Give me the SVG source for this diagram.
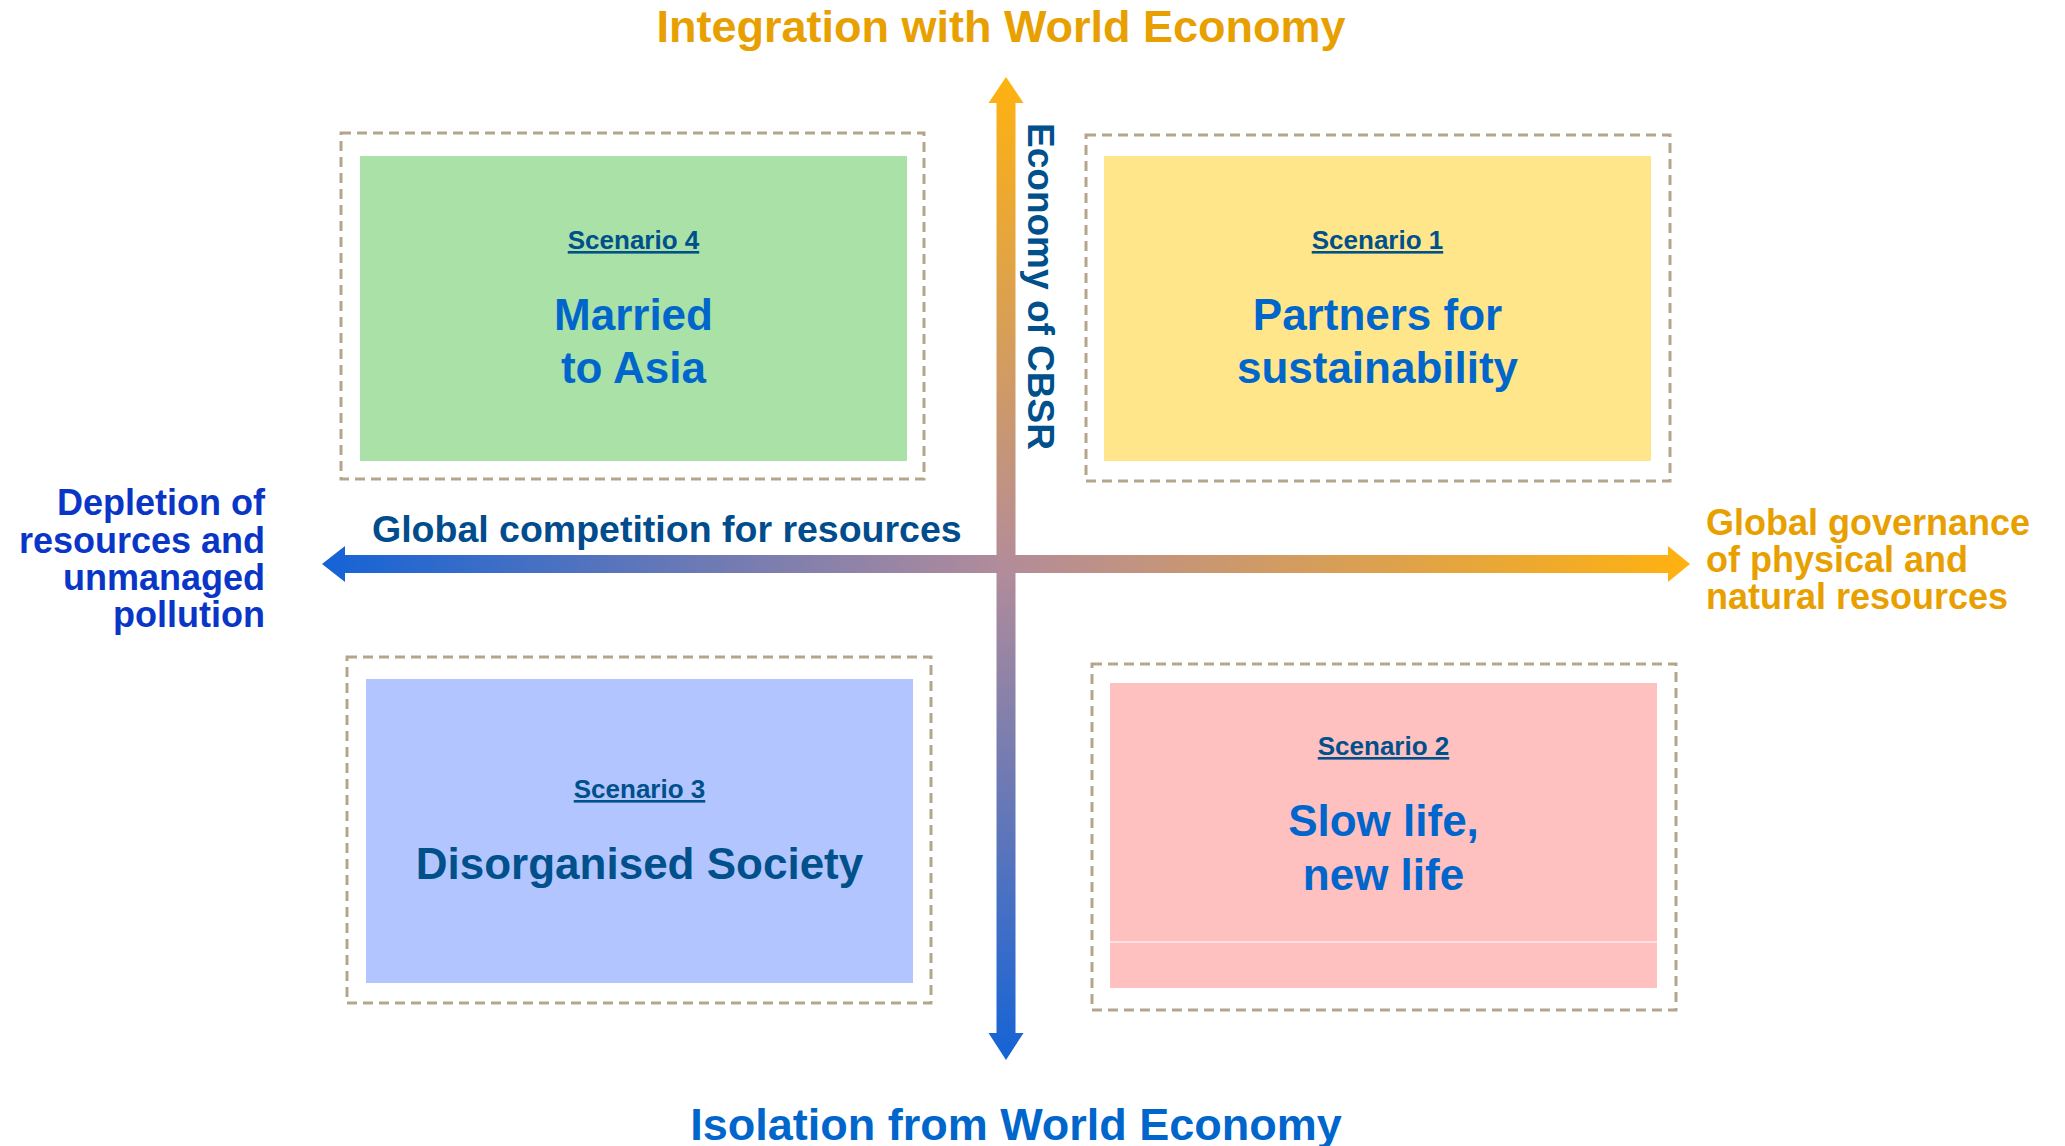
<svg xmlns="http://www.w3.org/2000/svg" width="2065" height="1146" viewBox="0 0 2065 1146">
<style>
text{font-family:"Liberation Sans",Arial,sans-serif;font-weight:bold}
.frame{fill:none;stroke:#B5A58A;stroke-width:3;stroke-dasharray:10 6}
.lbl{font-size:26px;fill:#00508C;text-decoration:underline;text-anchor:middle}
.ttl{font-size:44px;fill:#0066CC;text-anchor:middle}
.ttl2{font-size:44px;fill:#00508C;text-anchor:middle}
.axo{fill:#E8A000}
.axb{fill:#0066CC}
</style>
<defs>
<linearGradient id="gv" gradientUnits="userSpaceOnUse" x1="0" y1="77" x2="0" y2="1060">
<stop offset="0" stop-color="#FFB20F"/>
<stop offset="0.5" stop-color="#B38C9A"/>
<stop offset="1" stop-color="#1463D6"/>
</linearGradient>
<linearGradient id="gh" gradientUnits="userSpaceOnUse" x1="322" y1="0" x2="1690" y2="0">
<stop offset="0" stop-color="#1463D6"/>
<stop offset="0.5" stop-color="#B38C9A"/>
<stop offset="1" stop-color="#FFB20F"/>
</linearGradient>
</defs>
<rect width="2065" height="1146" fill="#FFFFFF"/>

<g id="connectors">
<path id="axis-h" fill="url(#gh)" d="M322,564 L345,546 L345,555 L1668,555 L1668,546 L1690,564 L1668,582 L1668,573 L345,573 L345,582 Z"/>
<path id="axis-v" fill="url(#gv)" d="M1006,77 L1023.5,103 L1015.5,103 L1015.5,1033 L1023.5,1033 L1006,1060 L988.5,1033 L996.5,1033 L996.5,103 L988.5,103 Z"/>
</g>

<g id="scenario4">
<rect class="frame" x="341" y="133" width="583" height="346"/>
<rect x="360" y="156" width="547" height="305" fill="#A9E1A7"/>
<text class="lbl" x="633.5" y="249">Scenario 4</text>
<text class="ttl" x="633.5" y="330">Married</text>
<text class="ttl" x="633.5" y="383">to Asia</text>
</g>

<g id="scenario1">
<rect class="frame" x="1086" y="135" width="584" height="346"/>
<rect x="1104" y="156" width="547" height="305" fill="#FFE68B"/>
<text class="lbl" x="1377.5" y="249">Scenario 1</text>
<text class="ttl" x="1377.5" y="330">Partners for</text>
<text class="ttl" x="1377.5" y="383">sustainability</text>
</g>

<g id="scenario3">
<rect class="frame" x="347" y="657" width="584" height="346"/>
<rect x="366" y="679" width="547" height="304" fill="#B3C5FF"/>
<text class="lbl" x="639.5" y="798">Scenario 3</text>
<text class="ttl2" x="639.5" y="879">Disorganised Society</text>
</g>

<g id="scenario2">
<rect class="frame" x="1092" y="664" width="584" height="346"/>
<rect x="1110" y="683" width="547" height="305" fill="#FFC0C0"/>
<line x1="1110" y1="942" x2="1657" y2="942" stroke="#FFFFFF" stroke-width="1"/>
<text class="lbl" x="1383.5" y="755">Scenario 2</text>
<text class="ttl" x="1383.5" y="836">Slow life,</text>
<text class="ttl" x="1383.5" y="890">new life</text>
</g>

<g id="axis-labels">
<text class="axo" x="1001" y="42" font-size="45" text-anchor="middle">Integration with World Economy</text>
<text class="axb" x="1016" y="1140" font-size="45" text-anchor="middle">Isolation from World Economy</text>
<text x="1028" y="286.5" font-size="37" fill="#00508C" text-anchor="middle" transform="rotate(90 1028 286.5)">Economy of CBSR</text>
<text x="372" y="542" font-size="37.5" fill="#004C8C">Global competition for resources</text>
<g font-size="36" fill="#0A36C8" text-anchor="end">
<text x="265" y="515">Depletion of</text>
<text x="265" y="553">resources and</text>
<text x="265" y="590">unmanaged</text>
<text x="265" y="627">pollution</text>
</g>
<g class="axo" font-size="36">
<text x="1706" y="535">Global governance</text>
<text x="1706" y="572">of physical and</text>
<text x="1706" y="609">natural resources</text>
</g>
</g>
</svg>
